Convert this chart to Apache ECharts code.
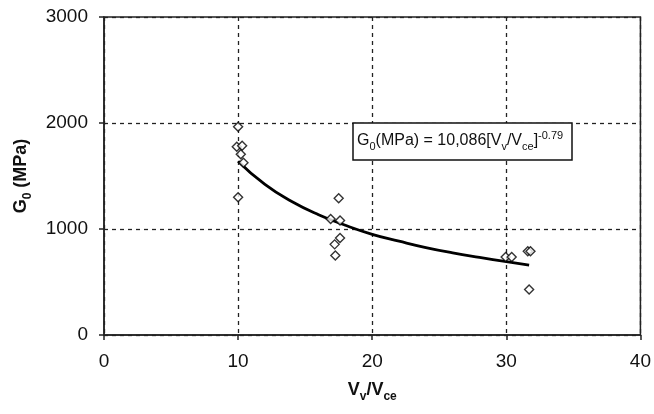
<!DOCTYPE html>
<html>
<head>
<meta charset="utf-8">
<script src="https://cdn.jsdelivr.net/npm/echarts@6/dist/echarts.min.js"></script>
<style>
  html, body { margin: 0; padding: 0; background: #fff; }
  #main { width: 654px; height: 414px; }
</style>
</head>
<body>
<div id="main"></div>
<script>
// measured points (Vv/Vce, G0 in MPa)
const pointsX = [10.0, 9.9, 10.3, 10.2, 10.4, 10.0, 17.5, 16.9, 17.6, 17.6, 17.2, 17.25, 29.95, 30.4, 31.6, 31.8, 31.7]
const pointsY = [1965, 1776, 1785, 1705, 1625, 1300, 1290, 1095, 1080, 915, 855, 750, 735, 735, 790, 790, 430]

// fitted curve
const curveX = [10, 12, 14, 16, 18, 20, 22, 24, 26, 28, 30, 31.7]
const curveY = [1640, 1420, 1260, 1135, 1035, 950, 885, 825, 775, 732, 692, 660]

const xTicks = [0, 10, 20, 30, 40]
const yTicks = [0, 1000, 2000, 3000]

const chart = echarts.init(document.getElementById('main'), null, { renderer: 'canvas' })

const font = 'Liberation Sans, Arial, sans-serif'
const ink = '#111'

let option = {
    animation: false,
    backgroundColor: '#fff',
    grid: {
        left: 104, right: 12, top: 17, bottom: 79,
        show: true, borderColor: '#222', borderWidth: 1.5, backgroundColor: 'transparent'
    },
    xAxis: {
        type: 'value',
        min: xTicks[0], max: xTicks[xTicks.length - 1], interval: 10,
        name: '{b|V}{s|v}{b|/V}{s|ce}',
        nameLocation: 'middle', nameGap: 46,
        nameTextStyle: {
            rich: {
                b: { fontFamily: font, fontWeight: 'bold', fontSize: 18, color: ink, lineHeight: 22, verticalAlign: 'top' },
                s: { fontFamily: font, fontWeight: 'bold', fontSize: 12, color: ink, lineHeight: 12, verticalAlign: 'bottom' }
            }
        },
        axisLine: { lineStyle: { color: '#222', width: 1.5 } },
        axisTick: { show: true, length: 5, lineStyle: { color: '#222', width: 1.5 } },
        axisLabel: { fontFamily: font, fontSize: 19, color: ink, margin: 17 },
        splitLine: { show: true, lineStyle: { color: '#222', type: [4, 4], width: 1.3 } }
    },
    yAxis: {
        type: 'value',
        min: yTicks[0], max: yTicks[yTicks.length - 1], interval: 1000,
        name: '{b|G}{s|0}{b| (MPa)}',
        nameLocation: 'middle', nameGap: 70, nameRotate: 90,
        nameTextStyle: {
            rich: {
                b: { fontFamily: font, fontWeight: 'bold', fontSize: 18, color: ink, lineHeight: 22, verticalAlign: 'top' },
                s: { fontFamily: font, fontWeight: 'bold', fontSize: 12, color: ink, lineHeight: 12, verticalAlign: 'bottom' }
            }
        },
        axisLine: { show: true, lineStyle: { color: '#222', width: 1.5 } },
        axisTick: { show: true, length: 5, lineStyle: { color: '#222', width: 1.5 } },
        axisLabel: { fontFamily: font, fontSize: 19, color: ink, margin: 16, formatter: v => String(v) },
        splitLine: { show: true, lineStyle: { color: '#222', type: [4, 4], width: 1.3 } }
    },
    series: [
        {
            type: 'line',
            data: curveX.map((x, i) => [x, curveY[i]]),
            smooth: true,
            showSymbol: false,
            lineStyle: { color: '#000', width: 2.8 },
            z: 2
        },
        {
            type: 'scatter',
            data: pointsX.map((x, i) => [x, pointsY[i]]),
            symbol: 'path://M0,-1 L1,0 L0,1 L-1,0 Z',
            symbolSize: [9, 9],
            itemStyle: { color: '#fff', borderColor: '#000', borderWidth: 1.4 },
            z: 3
        }
    ],
    graphic: [
        {
            type: 'rect',
            shape: { x: 353, y: 123, width: 219, height: 37 },
            style: { fill: '#fff', stroke: '#111', lineWidth: 1.5 },
            z: 10
        },
        {
            type: 'text',
            left: 357, top: 130,
            style: {
                text: '{n|G}{s|0}{n|(MPa) = 10,086[V}{s|v}{n|/V}{s|ce}{n|]}{p|-0.79}',
                rich: {
                    n: { fontFamily: font, fontSize: 16, fill: ink, lineHeight: 22, verticalAlign: 'middle' },
                    s: { fontFamily: font, fontSize: 11, fill: ink, lineHeight: 11, verticalAlign: 'bottom' },
                    p: { fontFamily: font, fontSize: 11, fill: ink, lineHeight: 11, verticalAlign: 'top' }
                }
            },
            z: 11
        }
    ]
}

chart.setOption(option)
</script>
</body>
</html>
